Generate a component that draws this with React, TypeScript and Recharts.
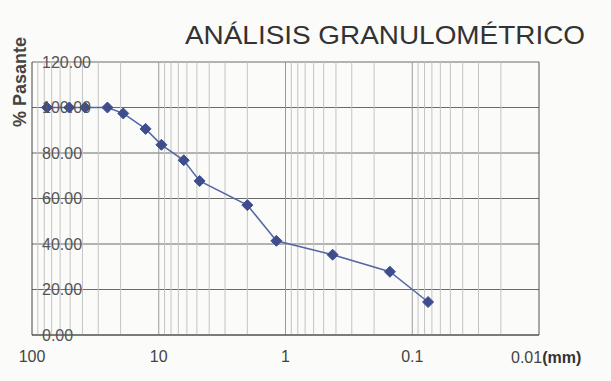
import React from "react";
import { LineChart, Line, XAxis, YAxis, CartesianGrid, ReferenceLine } from "recharts";

// Sieve opening (mm) and % passing
const sieveSizes = [76.2, 50.8, 38.1, 25.4, 19.05, 12.7, 9.525, 6.35, 4.76, 2.0, 1.18, 0.425, 0.15, 0.075];
const percentPassing = [100, 100, 100, 100, 97.4, 90.6, 83.6, 76.8, 67.7, 57.1, 41.4, 35.3, 27.8, 14.5];

const xTicks = [100, 10, 1, 0.1, 0.01];
const yTicks = [0, 20, 40, 60, 80, 100, 120];
const majorLines = [10, 1, 0.1];
const minorLines = [
  90, 80, 70, 60, 50, 40, 30, 20,
  9, 8, 7, 6, 5, 4, 3, 2,
  0.9, 0.8, 0.7, 0.6, 0.5, 0.4, 0.3, 0.2,
  0.09, 0.08, 0.07, 0.06, 0.05, 0.04, 0.03, 0.02,
];

const data = sieveSizes.map((s, i) => ({ size: s, pass: percentPassing[i] }));

const FONT = "'Liberation Sans', Arial, sans-serif";

const Diamond = (props: any) => {
  const { cx, cy } = props;
  if (cx == null || cy == null) return null;
  const r = 5.5;
  return (
    <polygon
      points={`${cx},${cy - r} ${cx + r},${cy} ${cx},${cy + r} ${cx - r},${cy}`}
      fill="#3e4d8e"
      stroke="#3e4d8e"
    />
  );
};

const XTick = (props: any) => {
  const { x, y, payload } = props;
  const v = payload.value;
  if (v === 0.01) {
    return (
      <text x={x - 28} y={y + 20} fontFamily={FONT} fontSize={16} fill="#444" textAnchor="start">
        0.01<tspan fontWeight="bold" fill="#333">(mm)</tspan>
      </text>
    );
  }
  return (
    <text x={x} y={y + 19} fontFamily={FONT} fontSize={16} fill="#444" textAnchor="middle">
      {String(v)}
    </text>
  );
};

const YTick = (props: any) => {
  const { x, y, payload } = props;
  return (
    <text x={x + 10} y={y} dy={5.5} fontFamily={FONT} fontSize={16} fill="#555" textAnchor="start">
      {Number(payload.value).toFixed(2)}
    </text>
  );
};

export default function App() {
  return (
    <div style={{ position: "absolute", left: 0, top: 0, width: 611, height: 381, background: "#fbfbf9" }}>
      <LineChart
        width={611}
        height={381}
        data={data}
        margin={{ top: 62, right: 72, bottom: 16, left: 0 }}
      >
        <CartesianGrid horizontal={true} vertical={false} stroke="#6a6a6a" strokeWidth={1} />
        {minorLines.map((v) => (
          <ReferenceLine key={"m" + v} x={v} stroke="#c4c4c4" strokeWidth={1} ifOverflow="hidden" />
        ))}
        {majorLines.map((v) => (
          <ReferenceLine key={"M" + v} x={v} stroke="#9a9a9a" strokeWidth={1} />
        ))}
        <ReferenceLine x={0.01} stroke="#555" strokeWidth={1} />
        <XAxis
          dataKey="size"
          type="number"
          scale="log"
          domain={[0.01, 100]}
          reversed
          allowDataOverflow
          ticks={xTicks}
          interval={0}
          tickLine={false}
          axisLine={{ stroke: "#444" }}
          height={30}
          tick={<XTick />}
        />
        <YAxis
          type="number"
          domain={[0, 120]}
          ticks={yTicks}
          interval={0}
          width={32}
          tickLine={false}
          tickSize={0}
          tickMargin={0}
          axisLine={{ stroke: "#444" }}
          tick={<YTick />}
        />
        <Line
          dataKey="pass"
          stroke="#5566a6"
          strokeWidth={1.5}
          dot={<Diamond />}
          isAnimationActive={false}
        />
      </LineChart>
      <svg width={611} height={381} style={{ position: "absolute", left: 0, top: 0, pointerEvents: "none" }}>
        <text
          x={385}
          y={44}
          textAnchor="middle"
          fontFamily={FONT}
          fontSize={25}
          fill="#333"
          textLength={400}
          lengthAdjust="spacingAndGlyphs"
        >
          ANÁLISIS GRANULOMÉTRICO
        </text>
        <text
          x={26}
          y={82}
          textAnchor="middle"
          fontFamily={FONT}
          fontSize={18}
          fontWeight="bold"
          fill="#444"
          transform="rotate(-90 26 82)"
        >
          % Pasante
        </text>
      </svg>
    </div>
  );
}
